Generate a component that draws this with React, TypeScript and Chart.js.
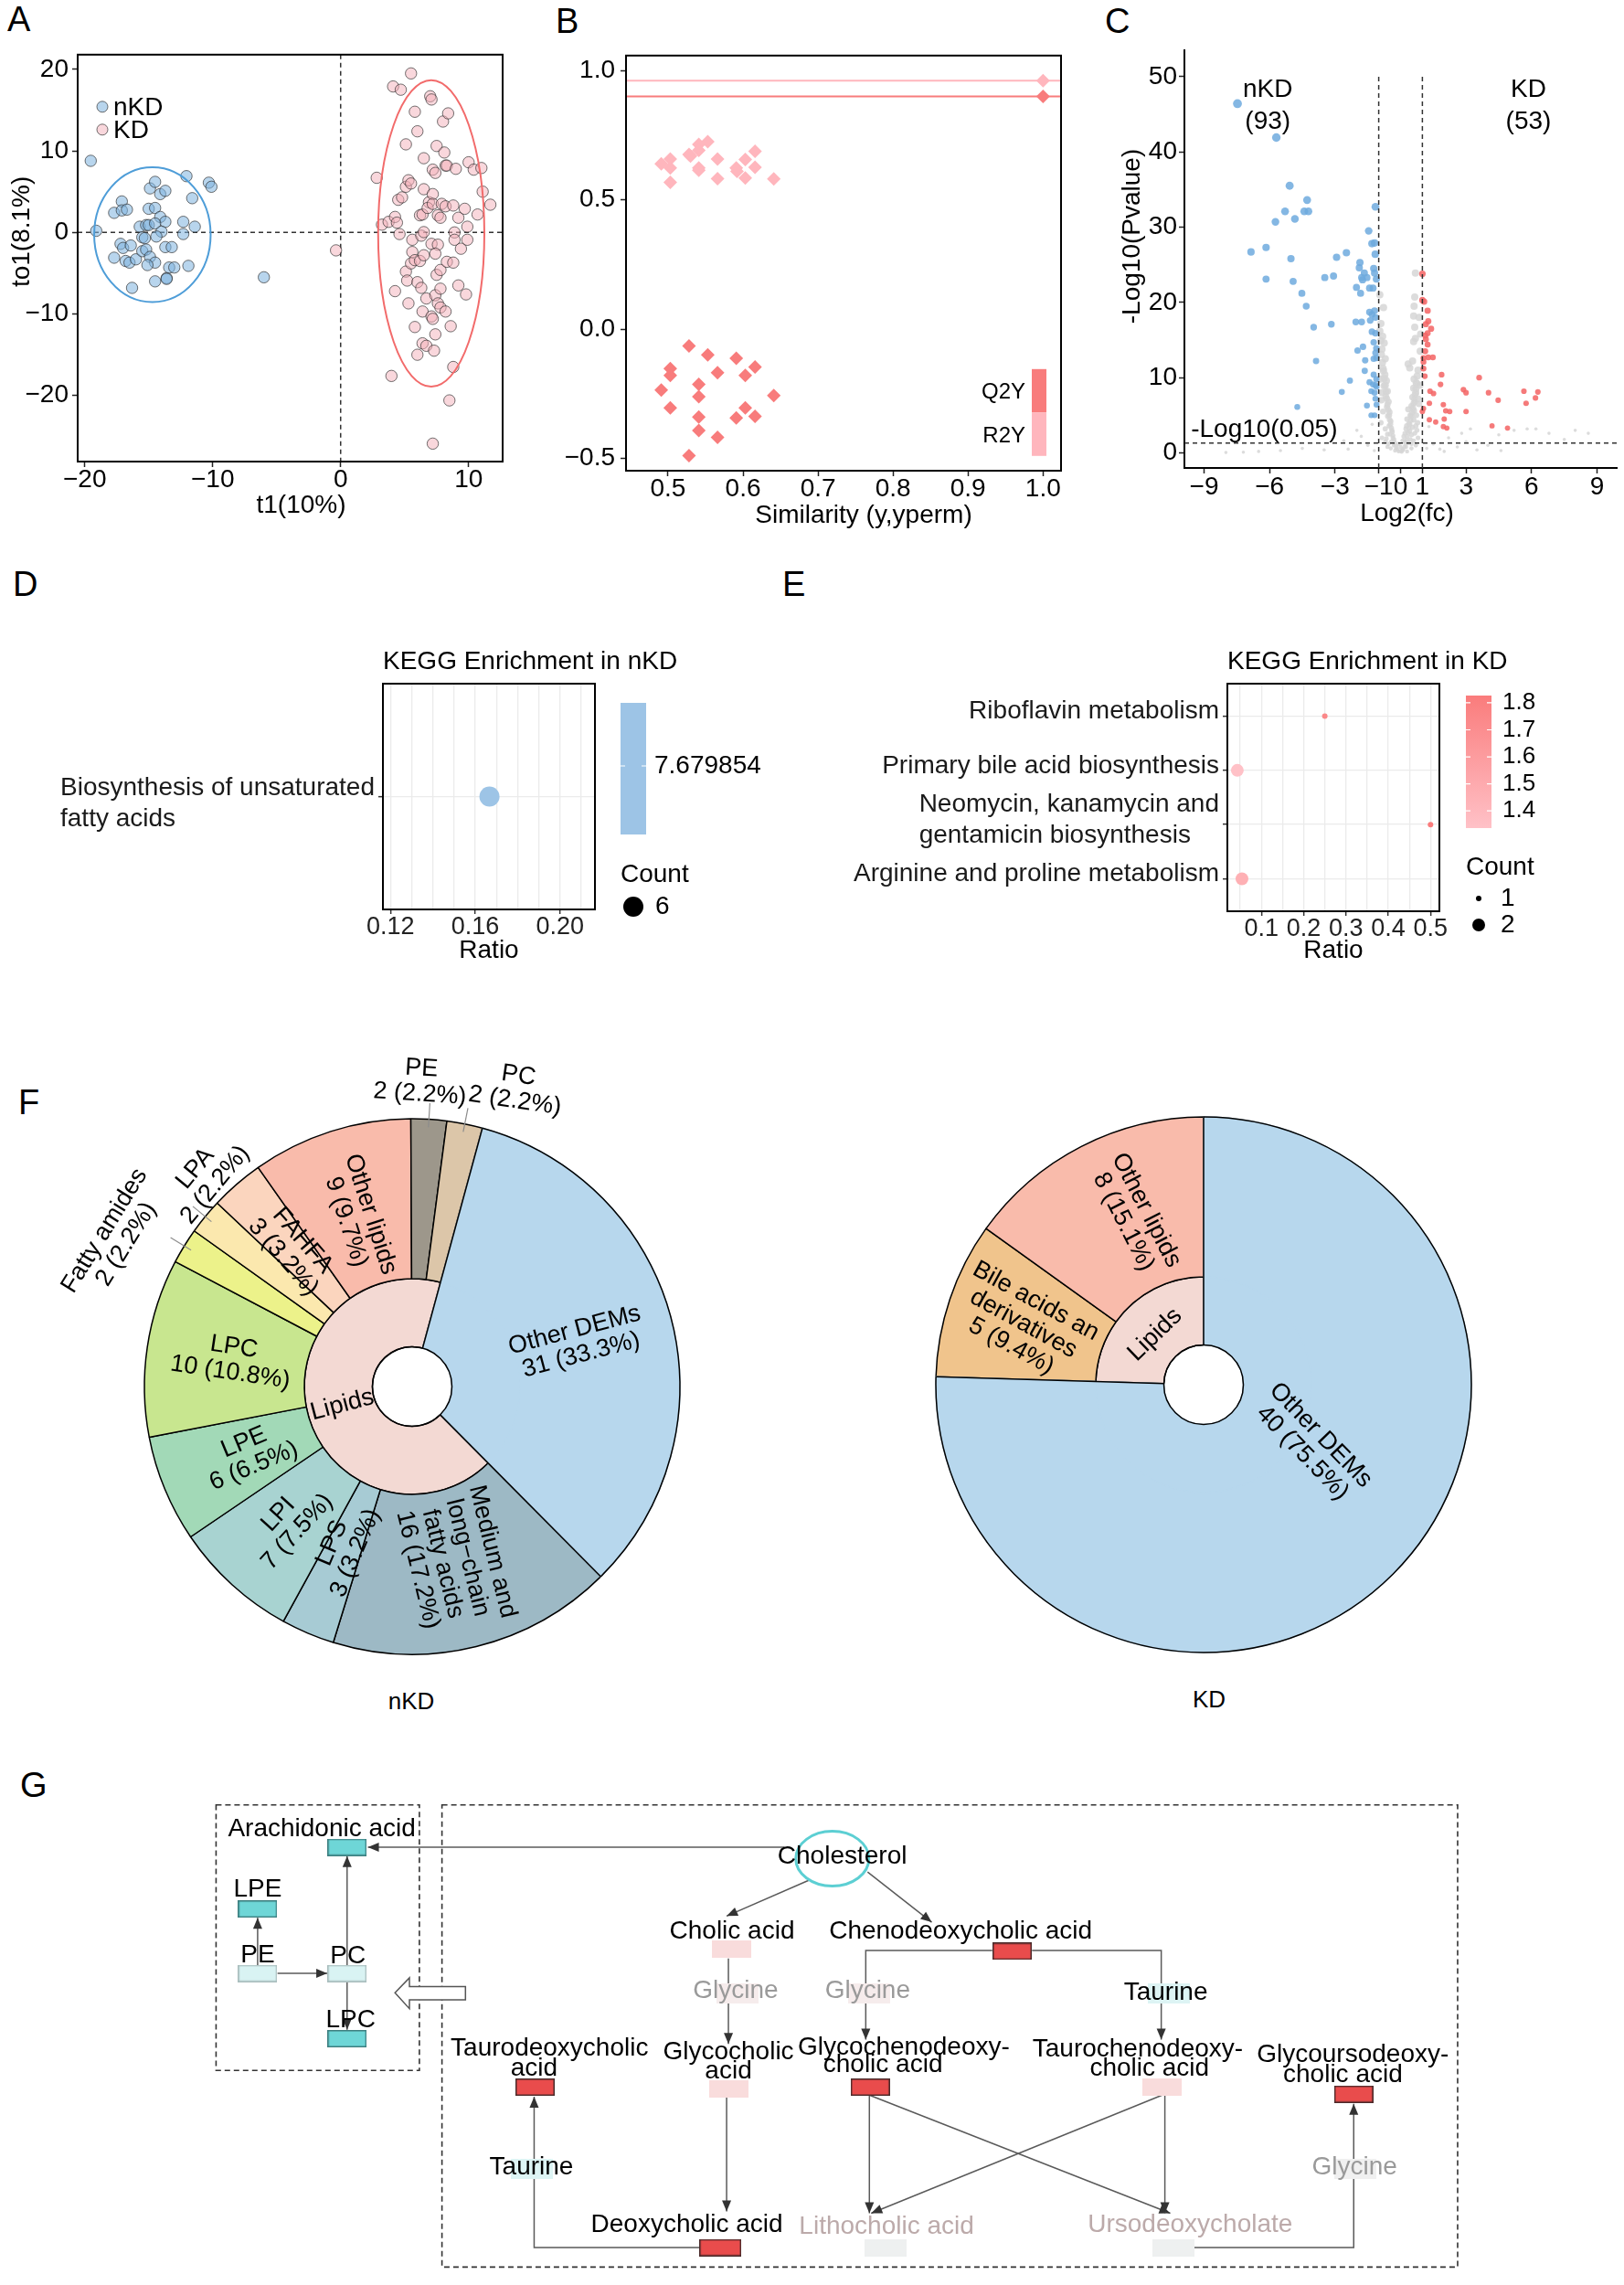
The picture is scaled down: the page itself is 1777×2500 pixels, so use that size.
import React, { useEffect, useRef } from 'react';
import { Chart, registerables } from 'chart.js';

Chart.register(...registerables);

const FONT = "'Liberation Sans', Arial, Helvetica, sans-serif";
Chart.defaults.font.family = FONT;
Chart.defaults.color = '#000';

// ================= Panel A : OPLS-DA scores =================
const A_GROUPS = ['nKD', 'KD'];
const A_NKD = [
  [-19.53, 8.78], [-19.1, 0.2], [-17.7, 2.4], [-17.1, 3.8], [-17.1, 2.7], [-16.7, 2.8], [-17.7, -3.1], [-17.2, -1.4],
  [-17.0, -1.9], [-16.4, -1.6], [-16.8, -3.5], [-16.5, -3.7], [-16.0, -3.3], [-16.3, -6.8], [-15.7, 0.7], [-15.2, 0.9],
  [-15.0, 0.9], [-15.5, -0.6], [-15.3, -0.7], [-15.5, -2.3], [-15.2, -2.1], [-14.9, -3.0], [-14.5, -3.7], [-15.1, -4.0],
  [-14.9, 5.4], [-14.5, 6.2], [-14.1, 4.7], [-13.7, 5.1], [-15.0, 2.9], [-14.5, 3.0], [-14.1, 1.9], [-13.7, 1.3],
  [-14.5, 1.1], [-14.0, 0.1], [-14.4, -0.5], [-13.7, -1.8], [-13.2, -1.8], [-14.5, -6.0], [-13.6, -5.6], [-13.4, -4.3],
  [-13.0, -4.3], [-12.3, 1.3], [-12.3, -0.2], [-12.05, 6.9], [-11.6, 4.2], [-11.4, 0.7], [-11.9, -4.1], [-10.3, 6.1],
  [-10.1, 5.6], [-6.0, -5.5], [-13.6, -5.7],
];
const A_KD = [
  [-0.36, -2.2], [2.82, 6.7], [3.23, 0.95], [3.75, 1.3], [4.25, 1.9], [4.4, 1.2], [4.6, -0.2], [4.1, 17.9], [4.7, 17.5],
  [3.97, -17.6], [4.25, -7.2], [4.5, 4.0], [4.8, 4.3], [5.1, 5.6], [5.3, 6.4], [5.5, 6.0], [5.1, 10.8], [5.5, 19.5],
  [5.8, 14.8], [6.0, 12.4], [5.1, -4.8], [5.2, -5.9], [5.3, -8.7], [5.6, -0.9], [5.6, -2.4], [5.5, -3.8], [5.8, -3.4],
  [6.0, -6.1], [5.8, -11.6], [6.0, -15.0], [6.2, 2.1], [6.4, 2.2], [6.3, -0.4], [6.5, 0.04], [6.5, 5.3], [6.5, 9.1],
  [6.4, -9.7], [6.2, -3.5], [6.3, -6.8], [6.5, -2.8], [6.7, -8.1], [6.4, -13.6], [6.7, -13.9], [7.0, 16.7], [7.1, 16.3],
  [7.2, 7.7], [7.4, 7.3], [6.9, 3.7], [7.2, 4.7], [6.8, 3.0], [7.2, 3.5], [7.6, 2.1], [7.8, 1.8], [7.1, -1.4],
  [7.6, -1.5], [7.4, -2.6], [7.5, -5.2], [7.8, -4.6], [7.4, -7.7], [7.6, -8.7], [7.8, -9.2], [7.1, -10.3], [7.2, -10.6],
  [7.4, -12.5], [7.3, -14.5], [7.2, -25.9], [7.5, 10.6], [8.1, 9.8], [8.0, 13.6], [8.4, 14.6], [8.2, 8.2], [8.3, 8.2],
  [7.9, 3.5], [8.2, 3.2], [8.3, -3.6], [7.8, -6.9], [8.2, -9.7], [8.6, -11.5], [8.8, -16.5], [8.5, -20.6], [8.8, 3.3],
  [9.0, 7.8], [8.9, 0.0], [8.9, -0.9], [8.8, -3.7], [9.2, 1.8], [9.2, -6.5], [9.4, -2.0], [9.7, 2.9], [9.9, 0.7],
  [9.9, -0.9], [9.8, -7.6], [10.0, 8.6], [10.4, 7.7], [10.7, 2.2], [11.0, 7.9], [11.1, 5.0], [11.7, 3.4],
];
const A_X_TICKS = [-20, -10, 0, 10];
const A_Y_TICKS = [-20, -10, 0, 10, 20];
const A_ELLIPSE_NKD = [-14.71, -0.27, 4.55, 8.27]; // cx, cy, rx, ry
const A_ELLIPSE_KD = [7.08, -0.12, 4.15, 18.8];

// ================= Panel B : permutation test =================
const B_SERIES = ['Q2Y', 'R2Y'];
const B_R2Y = [
  [0.491, 0.639], [0.503, 0.658], [0.503, 0.623], [0.503, 0.568], [0.528, 0.675], [0.53, 0.669], [0.541, 0.714],
  [0.541, 0.691], [0.541, 0.623], [0.541, 0.614], [0.553, 0.725], [0.566, 0.658], [0.566, 0.582], [0.591, 0.623],
  [0.592, 0.61], [0.603, 0.656], [0.603, 0.584], [0.616, 0.688], [0.616, 0.626], [0.641, 0.581], [1.0, 0.961],
];
const B_Q2Y = [
  [0.491, -0.236], [0.503, -0.153], [0.503, -0.179], [0.503, -0.305], [0.528, -0.065], [0.528, -0.49], [0.541, -0.214],
  [0.541, -0.262], [0.541, -0.34], [0.541, -0.392], [0.553, -0.1], [0.566, -0.169], [0.566, -0.419], [0.591, -0.113],
  [0.591, -0.344], [0.603, -0.179], [0.603, -0.305], [0.616, -0.147], [0.616, -0.338], [0.641, -0.257], [1.0, 0.9],
];
const B_X_TICKS = [0.5, 0.6, 0.7, 0.8, 0.9, 1.0];
const B_Y_TICKS = [-0.5, 0, 0.5, 1.0];

// ================= Panel C : volcano =================
const C_GROUPS = ['nKD', 'KD'];
const C_GROUP_COUNTS = [93, 53];
const C_DOWN = [
  [-7.47, 46.4], [-5.69, 41.9], [-5.08, 35.5], [-5.29, 32.1], [-4.84, 31.1], [-5.73, 30.7], [-4.28, 33.6], [-4.41, 32.1],
  [-4.22, 32.1], [-6.85, 26.7], [-6.16, 27.3], [-5.02, 25.8], [-6.16, 23.1], [-4.92, 22.8], [-4.52, 21.2], [-4.32, 19.5],
  [-3.98, 16.7], [-3.87, 12.2], [-4.73, 6.1], [-3.17, 17.1], [-3.47, 23.3], [-3.07, 23.5], [-2.93, 26.0], [-2.48, 26.6],
  [-2.69, 8.1], [-2.32, 9.6], [-2.05, 17.4], [-1.97, 13.6], [-1.78, 17.4], [-1.72, 14.1], [-1.62, 12.3], [-1.64, 10.9],
  [-1.54, 6.3], [-2.02, 22.0], [-1.86, 25.3], [-1.89, 24.6], [-1.78, 23.3], [-1.83, 21.2], [-1.74, 23.0], [-1.66, 23.9],
  [-1.54, 23.3], [-1.42, 21.9], [-1.26, 21.9], [-1.46, 29.5], [-1.31, 27.8], [-1.19, 27.9], [-1.15, 32.7], [-1.16, 26.4],
  [-1.23, 24.5], [-1.19, 23.9], [-1.11, 23.1], [-1.42, 18.7], [-1.31, 18.4], [-1.19, 18.9], [-1.39, 17.6], [-1.15, 18.0],
  [-1.31, 16.1], [-1.15, 15.9], [-1.23, 14.7], [-1.11, 13.9], [-1.15, 13.3], [-1.23, 12.5], [-1.10, 12.6], [-1.23, 10.4],
  [-1.11, 9.8], [-1.42, 9.4], [-1.26, 9.1], [-1.15, 9.0], [-1.34, 8.2], [-1.19, 8.0], [-1.15, 7.2], [-1.10, 6.4],
  [-1.34, 5.0], [-1.19, 5.0], [-1.10, 8.8],
];
const C_UP = [
  [1.0, 23.8], [1.0, 20.3], [1.08, 20.1], [1.24, 18.9], [1.27, 17.5], [1.16, 17.1], [1.4, 16.5], [1.24, 15.9], [1.13, 15.6],
  [1.16, 15.1], [1.24, 14.4], [1.13, 13.5], [1.05, 12.6], [1.27, 12.7], [1.48, 12.7], [1.05, 12.1], [1.05, 11.2], [1.11, 10.2],
  [1.88, 10.4], [1.83, 9.1], [1.35, 8.2], [1.51, 7.9], [1.32, 6.6], [1.96, 6.4], [1.05, 5.9], [2.07, 5.6], [2.25, 5.5],
  [2.0, 4.5], [1.32, 4.4], [1.61, 4.1], [1.96, 3.5], [2.12, 3.3], [1.0, 5.5], [2.88, 8.4], [3.0, 8.0], [3.0, 5.5],
  [3.6, 10.0], [4.03, 8.0], [4.47, 7.0], [4.19, 3.6], [4.9, 3.3], [5.65, 8.2], [5.75, 6.6], [6.18, 7.3], [6.29, 8.1],
];
const C_NS = [
  [0.68, 23.9], [0.65, 20.7], [0.62, 19.5], [0.6, 18.2], [0.65, 16.7], [0.68, 15.2], [0.6, 14.8], [0.55, 12.2], [0.35, 11.8],
  [0.42, 11.3], [-0.78, 19.3], [-0.95, 21.0], [-0.82, 15.5], [-0.75, 14.6], [-0.85, 13.8], [-0.7, 12.5], [-0.8, 11.2],
  [-0.72, 10.4], [-0.65, 9.6], [-0.75, 8.9], [-0.6, 8.2], [-0.68, 7.5], [-0.55, 6.8], [-0.62, 6.1], [-0.5, 5.4], [-0.58, 4.9],
  [-0.45, 4.2], [-0.52, 3.6], [-0.4, 3.0], [-0.48, 2.5], [-0.35, 2.0], [-0.42, 1.5], [-0.3, 1.0], [-0.2, 0.6], [0.1, 0.5],
  [0.25, 0.8], [0.35, 1.3], [0.45, 1.8], [0.5, 2.4], [0.42, 2.9], [0.55, 3.4], [0.38, 3.9], [0.6, 4.4], [0.45, 5.0],
  [0.62, 5.6], [0.5, 6.2], [0.65, 6.8], [0.55, 7.4], [0.7, 8.0], [0.6, 8.6], [0.72, 9.3], [0.62, 9.8], [0.3, 4.5], [0.25, 3.2],
  [0.15, 2.2], [0.2, 1.5], [-0.1, 1.2], [0.05, 0.3], [-0.25, 0.3], [0.3, 0.2], [0.5, 0.6], [0.7, 1.0], [0.8, 2.0], [0.75, 3.0],
  [0.78, 4.0], [0.85, 6.5], [0.88, 9.0], [0.8, 11.0], [0.9, 13.5], [0.92, 15.8], [0.85, 18.0], [-0.9, 17.2], [-0.92, 9.8],
  [-0.88, 7.0], [-0.9, 4.0], [-0.85, 2.0], [-0.7, 1.5], [-0.6, 0.8], [-2.0, 3.0], [-1.8, 2.2], [-1.5, 1.0], [-2.4, 0.5],
  [-3.5, 0.4], [-4.5, 0.6], [-5.5, 0.3], [-6.5, 0.2], [-7.2, 0.1], [-8.0, 0.05], [1.5, 1.2], [1.8, 0.5], [2.2, 2.0], [2.6, 0.8],
  [3.0, 1.5], [3.2, 3.2], [3.5, 0.4], [4.0, 1.0], [4.6, 0.3], [5.2, 3.0], [5.8, 3.2], [6.2, 3.2], [6.8, 2.6], [7.5, 1.8],
  [8.0, 3.0], [8.6, 2.6], [2.0, 0.2], [1.3, 3.5], [-1.3, 3.8], [-1.2, 0.3], [1.2, 0.6], [2.8, 2.6], [4.5, 2.4], [-2.6, 1.6],
  [-0.95, 16.2], [-0.9, 14.9], [-0.88, 13.1], [-0.83, 12.0], [-0.78, 10.9], [-0.74, 9.9], [-0.7, 9.0], [-0.66, 8.1],
  [-0.63, 7.2], [-0.6, 6.4], [-0.56, 5.7], [-0.52, 5.0], [-0.5, 4.4], [-0.46, 3.8], [-0.42, 3.3], [-0.38, 2.8], [-0.35, 2.3],
  [-0.3, 1.8], [-0.27, 1.4], [-0.22, 1.0], [-0.18, 0.7], [-0.12, 0.4], [-0.08, 0.2], [-0.6, 2.5], [-0.7, 3.2], [-0.8, 5.5],
  [-0.85, 8.0], [-0.55, 1.2], [-0.45, 0.6], [-0.65, 1.9], [0.05, 0.15], [0.12, 0.4], [0.18, 0.8], [0.22, 1.2], [0.27, 1.7],
  [0.3, 2.2], [0.34, 2.7], [0.38, 3.3], [0.42, 3.8], [0.46, 4.3], [0.5, 4.9], [0.53, 5.4], [0.57, 6.0], [0.6, 6.6],
  [0.64, 7.2], [0.67, 7.8], [0.7, 8.5], [0.74, 9.2], [0.5, 1.2], [0.6, 1.6], [0.65, 2.6], [0.7, 3.6], [0.72, 5.0], [0.8, 7.2],
  [0.76, 10.2], [0.2, 2.6], [0.28, 3.6], [0.35, 5.8], [0.1, 1.6], [0.0, 0.8],
];
const C_X_TICKS = [-9, -6, -3, -1, 0, 1, 3, 6, 9];
const C_Y_TICKS = [0, 10, 20, 30, 40, 50];
const C_FC_CUTOFF = 1;
const C_P_CUTOFF = 1.30103;

// ================= Panel D : KEGG nKD =================
const D_PATHWAYS = ['Biosynthesis of unsaturated\nfatty acids'];
const D_RATIO = [0.1667];
const D_COUNT = [6];
const D_NEGLOGP = [7.679854];
const D_X_GRID = [0.12, 0.13, 0.14, 0.15, 0.16, 0.17, 0.18, 0.19, 0.2, 0.21];
const D_X_LABELS = [0.12, 0.16, 0.2];

// ================= Panel E : KEGG KD =================
const E_PATHWAYS = [
  'Arginine and proline metabolism',
  'Neomycin, kanamycin and\ngentamicin biosynthesis',
  'Primary bile acid biosynthesis',
  'Riboflavin metabolism',
];
const E_RATIO = [0.054, 0.5, 0.043, 0.25];
const E_COUNT = [2, 1, 2, 1];
const E_NEGLOGP = [1.46, 1.827, 1.336, 1.74];
const E_X_GRID = [0.05, 0.1, 0.15, 0.2, 0.25, 0.3, 0.35, 0.4, 0.45, 0.5];
const E_X_LABELS = [0.1, 0.2, 0.3, 0.4, 0.5];
const E_CB_TICKS = [1.4, 1.5, 1.6, 1.7, 1.8];
const E_COUNT_LEVELS = [1, 2];

// ================= Panel F : class composition =================
const NKD_CLASSES = ['Medium and\nlong\u2212chain\nfatty acids', 'LPS', 'LPI', 'LPE', 'LPC', 'Fatty amides', 'LPA', 'FAHFA', 'Other lipids', 'PE', 'PC', 'Other DEMs'];
const NKD_COUNTS = [16, 3, 7, 6, 10, 2, 2, 3, 9, 2, 2, 31];
const NKD_INNER = ['Lipids', 'Other DEMs'];
const NKD_INNER_COUNTS = [62, 31];
const KD_CLASSES = ['Bile acids an\nderivatives', 'Other lipids', 'Other DEMs'];
const KD_COUNTS = [5, 8, 40];
const KD_INNER = ['Lipids', 'Other DEMs'];
const KD_INNER_COUNTS = [13, 40];

// ================= Panel G : pathway =================
const G_NODE_NAMES = ['Arachidonic acid', 'LPE', 'PE', 'PC', 'LPC', 'Cholic acid', 'Chenodeoxycholic acid', 'Taurodeoxycholic acid',
  'Glycocholic acid', 'Glycochenodeoxycholic acid', 'Taurochenodeoxycholic acid', 'Glycoursodeoxycholic acid', 'Deoxycholic acid',
  'Lithocholic acid', 'Ursodeoxycholate', 'Glycine', 'Glycine', 'Taurine', 'Taurine', 'Glycine'];
const G_NODE_X = [374, 275, 275, 374, 374, 800, 1110, 582, 796, 953, 1276, 1488, 787, 970, 1288, 806, 952, 1283, 579, 1490];
const G_NODE_Y = [2014, 2084, 2157, 2157, 2231, 2130, 2132, 2286, 2288, 2286, 2286, 2294, 2468, 2468, 2468, 2180, 2180, 2180, 2379, 2379];
const G_NODE_KIND = ['down', 'down', 'lipidNs', 'lipidNs', 'down', 'upNs', 'up', 'up', 'upNs', 'up', 'upNs', 'up', 'up', 'none', 'none',
  'glyBg', 'glyBg', 'tauBg', 'tauBg', 'grayBg'];
const G_LABEL_TEXT = ['Arachidonic acid', 'LPE', 'PE', 'PC', 'LPC', 'Cholesterol', 'Cholic acid', 'Chenodeoxycholic acid', 'Glycine',
  'Glycine', 'Taurine', 'Taurodeoxycholic', 'acid', 'Glycocholic', 'acid', 'Glycochenodeoxy-', 'cholic acid', 'Taurochenodeoxy-',
  'cholic acid', 'Glycoursodeoxy-', 'cholic acid', 'Taurine', 'Glycine', 'Deoxycholic acid', 'Lithocholic acid', 'Ursodeoxycholate'];
const G_LABEL_X = [346, 275, 275, 375, 378, 922, 800, 1053, 804, 950, 1280, 598, 581, 796, 796, 990, 967, 1249, 1262, 1487, 1476, 578, 1489, 750, 971, 1307];
const G_LABEL_Y = [1993, 2062, 2137, 2138, 2210, 2025, 2110, 2110, 2177, 2177, 2179, 2242, 2265, 2246, 2268, 2241, 2261, 2243, 2265, 2249, 2272, 2377, 2377, 2442, 2444, 2442];
const G_LABEL_TONE = ['k', 'k', 'k', 'k', 'k', 'k', 'k', 'k', 'g', 'g', 'k', 'k', 'k', 'k', 'k', 'k', 'k', 'k', 'k', 'k', 'k', 'k', 'g', 'k', 'r', 'r'];
const G_EDGES = [
  [[858, 2014], [397, 2014]],
  [[374, 2148], [374, 2024]],
  [[275, 2148], [275, 2094]],
  [[297, 2157], [352, 2157]],
  [[374, 2166], [374, 2221]],
  [[886, 2051], [794, 2092]],
  [[950, 2042], [1021, 2099]],
  [[1088, 2131], [948, 2131], [948, 2232]],
  [[1132, 2131], [1275, 2131], [1275, 2232]],
  [[796, 2140], [796, 2237]],
  [[794, 2298], [794, 2427]],
  [[767, 2468], [581, 2468], [581, 2297]],
  [[952, 2295], [952, 2429]],
  [[952, 2295], [1285, 2429]],
  [[1276, 2295], [954, 2429]],
  [[1279, 2295], [1279, 2429]],
  [[1311, 2468], [1488, 2468], [1488, 2305]],
];
const G_BOXES = [[229, 1966, 454, 2267], [479, 1966, 1603, 2490]];
const G_BIG_ARROW = [[427, 2179], [443, 2162], [443, 2172], [505, 2172], [505, 2187], [443, 2187], [443, 2197]];
const G_CHOLESTEROL = [911, 2027, 40, 30];

// ================= Helpers =================
const fmtNum = (v: number, d: number) => {
  const s = Math.abs(v).toFixed(d);
  return v < -1e-9 ? '\u2212' + s : s;
};
const near = (arr: number[], v: number) => arr.some((a) => Math.abs(a - v) < 1e-9);

function geom(area: any, yw: number, xh: number, pad: any) {
  return {
    left: area.l - yw - pad.left,
    top: area.t - pad.top,
    width: area.r - area.l + yw + pad.left + pad.right,
    height: area.b - area.t + xh + pad.top + pad.bottom,
    padding: pad,
  };
}

const tickGrid = { display: true, drawOnChartArea: false, drawTicks: true, tickLength: 6, tickWidth: 1.5, tickColor: '#222' };

function linAxis(o: any) {
  const horiz = o.pos === 'bottom';
  return {
    type: 'linear',
    position: o.pos,
    min: o.min,
    max: o.max,
    afterBuildTicks: (s: any) => { s.ticks = o.ticks.map((v: number) => ({ value: v })); },
    afterFit: (s: any) => { if (horiz) s.height = o.size; else s.width = o.size; },
    ticks: {
      display: true, autoSkip: false, maxRotation: 0, minRotation: 0, padding: o.pad,
      color: '#000', font: { size: 28 }, callback: o.fmt,
    },
    title: { display: false },
    grid: tickGrid,
    border: { display: true, color: '#000', width: 2 },
  };
}

// axis titles drawn at the scale edges, centred on the panel with a small offset
function titlesPlugin(t: any) {
  return {
    id: 'axisTitles',
    afterDraw(chart: any) {
      const { ctx, chartArea: a, scales } = chart;
      ctx.save();
      ctx.fillStyle = '#000';
      ctx.font = `28px ${FONT}`;
      ctx.textAlign = 'center';
      ctx.textBaseline = 'middle';
      if (t.x) ctx.fillText(t.x, (a.left + a.right) / 2 + (t.dx || 0), scales.x.bottom - 20.8);
      if (t.y) {
        ctx.translate(scales.y.left + 20.8, (a.top + a.bottom) / 2 + (t.dy || 0));
        ctx.rotate(-Math.PI / 2);
        ctx.fillText(t.y, 0, 0);
      }
      ctx.restore();
    },
  };
}

const framePlugin = {
  id: 'frame',
  afterDatasetsDraw(chart: any) {
    const { ctx, chartArea: a } = chart;
    ctx.save();
    ctx.strokeStyle = '#000';
    ctx.lineWidth = 2;
    ctx.strokeRect(a.left, a.top, a.right - a.left, a.bottom - a.top);
    ctx.restore();
  },
};

function ChartCanvas({ g, make }: any) {
  const ref = useRef<HTMLCanvasElement>(null);
  useEffect(() => {
    const cfg = make();
    cfg.options = cfg.options || {};
    Object.assign(cfg.options, { responsive: false, maintainAspectRatio: false, animation: false, devicePixelRatio: 1 });
    cfg.options.layout = { padding: g.padding };
    cfg.options.plugins = Object.assign({ legend: { display: false }, tooltip: { enabled: false }, title: { display: false } }, cfg.options.plugins || {});
    const chart = new Chart(ref.current as any, cfg);
    return () => chart.destroy();
  }, []);
  return (
    <canvas ref={ref} width={g.width} height={g.height}
      style={{ position: 'absolute', left: g.left, top: g.top, width: g.width, height: g.height }} />
  );
}

// ================= Panel A config =================
const A_COL_NKD = 'rgba(125,178,222,0.55)';
const A_COL_KD = 'rgba(244,176,186,0.5)';
const A_EDGE = 'rgba(40,40,40,0.65)';
const GA = geom({ l: 85, t: 59, r: 550, b: 505 }, 82, 69, { top: 20, right: 16, bottom: 0, left: 0 });

function makeA() {
  return {
    type: 'scatter',
    data: {
      datasets: [
        { label: A_GROUPS[0], data: A_NKD.map(([x, y]) => ({ x, y })), pointRadius: 6.2, backgroundColor: A_COL_NKD, borderColor: A_EDGE, borderWidth: 1 },
        { label: A_GROUPS[1], data: A_KD.map(([x, y]) => ({ x, y })), pointRadius: 6.2, backgroundColor: A_COL_KD, borderColor: A_EDGE, borderWidth: 1 },
      ],
    },
    options: {
      scales: {
        x: linAxis({ pos: 'bottom', min: -20.55, max: 12.66, ticks: A_X_TICKS, fmt: (v: number) => fmtNum(v, 0), size: 69, pad: -3 }),
        y: linAxis({ pos: 'left', min: -28.1, max: 21.8, ticks: A_Y_TICKS, fmt: (v: number) => fmtNum(v, 0), size: 82, pad: 4 }),
      },
    },
    plugins: [
      {
        id: 'aDecor',
        beforeDatasetsDraw(chart: any) {
          const { ctx, chartArea: a, scales } = chart;
          ctx.save();
          ctx.strokeStyle = '#333';
          ctx.lineWidth = 1.5;
          ctx.setLineDash([5, 4]);
          const x0 = scales.x.getPixelForValue(0);
          const y0 = scales.y.getPixelForValue(0);
          ctx.beginPath(); ctx.moveTo(x0, a.top); ctx.lineTo(x0, a.bottom); ctx.stroke();
          ctx.beginPath(); ctx.moveTo(a.left, y0); ctx.lineTo(a.right, y0); ctx.stroke();
          ctx.restore();
        },
        afterDatasetsDraw(chart: any) {
          const { ctx, chartArea: a, scales } = chart;
          const xs = scales.x, ys = scales.y;
          ctx.save();
          [[A_ELLIPSE_NKD, '#4E9DD8'], [A_ELLIPSE_KD, '#F26B6B']].forEach(([e, col]: any) => {
            const cx = xs.getPixelForValue(e[0]);
            const cy = ys.getPixelForValue(e[1]);
            const rx = Math.abs(xs.getPixelForValue(e[0] + e[2]) - cx);
            const ry = Math.abs(ys.getPixelForValue(e[1] + e[3]) - cy);
            ctx.strokeStyle = col;
            ctx.lineWidth = 2;
            ctx.beginPath(); ctx.ellipse(cx, cy, rx, ry, 0, 0, Math.PI * 2); ctx.stroke();
          });
          const cols = [A_COL_NKD, A_COL_KD];
          ctx.font = `28px ${FONT}`;
          ctx.textBaseline = 'middle';
          ctx.textAlign = 'left';
          A_GROUPS.forEach((g, i) => {
            const lx = a.left + 27, ly = a.top + 57 + i * 25;
            ctx.beginPath(); ctx.arc(lx, ly, 6, 0, Math.PI * 2);
            ctx.fillStyle = cols[i]; ctx.fill();
            ctx.strokeStyle = A_EDGE; ctx.lineWidth = 1; ctx.stroke();
            ctx.fillStyle = '#000';
            ctx.fillText(g, lx + 12, ly + 1);
          });
          ctx.restore();
        },
      },
      framePlugin,
      titlesPlugin({ x: 't1(10%)', dx: 12, y: 'to1(8.1%)', dy: -29 }),
    ],
  };
}

// ================= Panel B config =================
const B_COL_R2Y = '#FFB6BD';
const B_COL_Q2Y = '#F87C7C';
const GB = geom({ l: 685, t: 58, r: 1161, b: 515 }, 90, 70, { top: 20, right: 16, bottom: 0, left: 0 });

function makeB() {
  return {
    type: 'scatter',
    data: {
      datasets: [
        { label: 'R2Y', data: B_R2Y.map(([x, y]) => ({ x, y })), pointStyle: 'rectRot', pointRadius: 7.5, backgroundColor: B_COL_R2Y, borderWidth: 0 },
        { label: 'Q2Y', data: B_Q2Y.map(([x, y]) => ({ x, y })), pointStyle: 'rectRot', pointRadius: 7.5, backgroundColor: B_COL_Q2Y, borderWidth: 0 },
      ],
    },
    options: {
      scales: {
        x: linAxis({ pos: 'bottom', min: 0.444, max: 1.024, ticks: B_X_TICKS, fmt: (v: number) => fmtNum(v, 1), size: 70, pad: -3 }),
        y: linAxis({ pos: 'left', min: -0.548, max: 1.058, ticks: B_Y_TICKS, fmt: (v: number) => fmtNum(v, 1), size: 90, pad: 6 }),
      },
    },
    plugins: [
      {
        id: 'bDecor',
        beforeDatasetsDraw(chart: any) {
          const { ctx, chartArea: a, scales } = chart;
          ctx.save();
          ctx.lineWidth = 2;
          const rOrig = B_R2Y[B_R2Y.length - 1][1];
          const qOrig = B_Q2Y[B_Q2Y.length - 1][1];
          [[rOrig, B_COL_R2Y], [qOrig, B_COL_Q2Y]].forEach(([v, c]: any) => {
            const y = scales.y.getPixelForValue(v);
            ctx.strokeStyle = c;
            ctx.beginPath(); ctx.moveTo(a.left, y); ctx.lineTo(a.right, y); ctx.stroke();
          });
          ctx.restore();
        },
        afterDatasetsDraw(chart: any) {
          const { ctx, chartArea: a } = chart;
          ctx.save();
          const cols = [B_COL_Q2Y, B_COL_R2Y];
          ctx.font = `24px ${FONT}`;
          ctx.textAlign = 'right';
          ctx.textBaseline = 'middle';
          B_SERIES.forEach((s, i) => {
            const y0 = a.top + 343 + i * 47.5;
            ctx.fillStyle = cols[i];
            ctx.fillRect(a.right - 32, y0, 16, 47.5);
            ctx.fillStyle = '#000';
            ctx.fillText(s, a.right - 39, y0 + 26);
          });
          ctx.restore();
        },
      },
      framePlugin,
      titlesPlugin({ x: 'Similarity (y,yperm)', dx: 22 }),
    ],
  };
}

// ================= Panel C config =================
const GC = geom({ l: 1296, t: 55, r: 1769, b: 512 }, 78, 71, { top: 20, right: 8, bottom: 0, left: 0 });

function makeC() {
  return {
    type: 'scatter',
    data: {
      datasets: [
        { label: 'up', order: 1, data: C_UP.map(([x, y]) => ({ x, y })), backgroundColor: 'rgba(244,104,104,0.88)', borderWidth: 0,
          pointRadius: (c: any) => 2.8 + (c.raw ? c.raw.y : 0) * 0.035 },
        { label: 'down', order: 1, data: C_DOWN.map(([x, y]) => ({ x, y })), backgroundColor: 'rgba(110,170,222,0.85)', borderWidth: 0,
          pointRadius: (c: any) => 3.0 + (c.raw ? c.raw.y : 0) * 0.04 },
        { label: 'ns', order: 3, data: C_NS.map(([x, y]) => ({ x, y })), backgroundColor: 'rgba(214,214,214,0.85)', borderWidth: 0,
          pointRadius: (c: any) => (c.raw && Math.abs(c.raw.x) > 1.1 ? 1.8 : Math.min(2.2 + (c.raw ? c.raw.y : 0) * 0.2, 4)) },
      ],
    },
    options: {
      scales: {
        x: linAxis({ pos: 'bottom', min: -9.9, max: 9.9, ticks: C_X_TICKS, fmt: (v: number) => fmtNum(v, 0), size: 71, pad: -2 }),
        y: linAxis({ pos: 'left', min: -2.0, max: 53.5, ticks: C_Y_TICKS, fmt: (v: number) => fmtNum(v, 0), size: 78, pad: 2 }),
      },
    },
    plugins: [
      {
        id: 'cDecor',
        afterDatasetsDraw(chart: any) {
          const { ctx, chartArea: a, scales } = chart;
          const xs = scales.x, ys = scales.y;
          ctx.save();
          ctx.strokeStyle = '#333';
          ctx.lineWidth = 1.5;
          ctx.setLineDash([5, 4]);
          [-C_FC_CUTOFF, C_FC_CUTOFF].forEach((v) => {
            const x = xs.getPixelForValue(v);
            ctx.beginPath(); ctx.moveTo(x, a.bottom); ctx.lineTo(x, ys.getPixelForValue(50)); ctx.stroke();
          });
          const yp = ys.getPixelForValue(C_P_CUTOFF);
          ctx.beginPath(); ctx.moveTo(a.left, yp); ctx.lineTo(a.right, yp); ctx.stroke();
          ctx.setLineDash([]);
          ctx.fillStyle = '#000';
          ctx.font = `28px ${FONT}`;
          ctx.textAlign = 'center';
          ctx.textBaseline = 'middle';
          const gx = [-6.08, 5.86];
          C_GROUPS.forEach((g, i) => {
            ctx.fillText(g, xs.getPixelForValue(gx[i]), ys.getPixelForValue(48.2));
            ctx.fillText(`(${C_GROUP_COUNTS[i]})`, xs.getPixelForValue(gx[i]), ys.getPixelForValue(44.0));
          });
          ctx.textAlign = 'left';
          ctx.fillText('-Log10(0.05)', xs.getPixelForValue(-9.6), ys.getPixelForValue(3.1));
          ctx.restore();
        },
      },
      titlesPlugin({ x: 'Log2(fc)', dx: 7, y: '-Log10(Pvalue)', dy: -25 }),
    ],
  };
}

// ================= Panels D & E config =================
function lerpColor(c1: number[], c2: number[], t: number) {
  const c = c1.map((v, i) => Math.round(v + (c2[i] - v) * t));
  return `rgb(${c[0]},${c[1]},${c[2]})`;
}
const E_LOW = [255, 193, 199];
const E_HIGH = [250, 124, 124];
const E_MIN = Math.min(...E_NEGLOGP);
const E_MAX = Math.max(...E_NEGLOGP);
const eColor = (v: number) => lerpColor(E_LOW, E_HIGH, (v - E_MIN) / (E_MAX - E_MIN));
const E_COUNT_RADII = [3, 7];
const D_COLOR = '#9DC4E6';

const GD = geom({ l: 419, t: 748, r: 651, b: 995 }, 10, 66, { top: 60, right: 210, bottom: 0, left: 369 });
const GE = geom({ l: 1343, t: 748, r: 1575, b: 997 }, 10, 64, { top: 60, right: 130, bottom: 0, left: 463 });

function makeKegg(k: any) {
  return {
    type: 'scatter',
    data: {
      datasets: [{
        data: k.ratio.map((r: number, i: number) => ({ x: r, y: i + 1 })),
        pointRadius: k.count.map(k.radius),
        backgroundColor: k.value.map(k.color),
        borderWidth: 0,
      }],
    },
    options: {
      scales: {
        x: {
          type: 'linear', position: 'bottom', min: k.xmin, max: k.xmax,
          afterBuildTicks: (s: any) => { s.ticks = k.grid.map((v: number) => ({ value: v })); },
          afterFit: (s: any) => { s.height = k.xh; },
          ticks: { autoSkip: false, maxRotation: 0, minRotation: 0, padding: -2, color: '#222', font: { size: 27 },
            callback: (v: number) => (near(k.labels, v) ? v.toFixed(k.dec) : '') },
          grid: { color: '#EBEBEB', lineWidth: 1.3, drawTicks: true, tickLength: 5, tickWidth: 1.5,
            tickColor: (c: any) => (c.tick && near(k.labels, c.tick.value) ? '#333' : 'rgba(0,0,0,0)') },
          border: { display: true, color: '#000', width: 2 },
          title: { display: true, text: 'Ratio', color: '#000', font: { size: 28 }, padding: { top: 0, bottom: 4 } },
        },
        y: {
          type: 'linear', position: 'left', min: 0.4, max: k.names.length + 0.6,
          afterBuildTicks: (s: any) => { s.ticks = k.names.map((_: any, i: number) => ({ value: i + 1 })); },
          afterFit: (s: any) => { s.width = 10; },
          ticks: { display: false },
          grid: { color: '#EBEBEB', lineWidth: 1.3, drawTicks: true, tickLength: 5, tickWidth: 1.5, tickColor: '#333' },
          border: { display: true, color: '#000', width: 2 },
        },
      },
    },
    plugins: [
      framePlugin,
      {
        id: 'keggDecor',
        afterDraw(chart: any) {
          const { ctx, chartArea: a, scales } = chart;
          ctx.save();
          ctx.fillStyle = '#000';
          ctx.font = `28px ${FONT}`;
          ctx.textBaseline = 'middle';
          ctx.textAlign = 'left';
          ctx.fillText(k.title, a.left, a.top - 24);
          ctx.fillStyle = '#1A1A1A';
          k.names.forEach((name: string, i: number) => {
            const lines = name.split('\n');
            const py = scales.y.getPixelForValue(i + 1) + k.labelDy;
            const x0 = a.left - 9;
            if (lines.length === 1) {
              ctx.textAlign = 'right';
              ctx.fillText(lines[0], x0, py);
            } else {
              const w = Math.max(...lines.map((l) => ctx.measureText(l).width));
              ctx.textAlign = 'left';
              lines.forEach((l, j) => ctx.fillText(l, x0 - w, py + (j - (lines.length - 1) / 2) * 34));
            }
          });
          k.legend(ctx, a);
          ctx.restore();
        },
      },
    ],
  };
}

function makeD() {
  return makeKegg({
    names: D_PATHWAYS, ratio: D_RATIO, count: D_COUNT, value: D_NEGLOGP,
    xmin: 0.1164, xmax: 0.2165, grid: D_X_GRID, labels: D_X_LABELS, dec: 2, xh: 66, labelDy: 8,
    title: 'KEGG Enrichment in nKD',
    radius: () => 11,
    color: () => D_COLOR,
    legend: (ctx: any, a: any) => {
      const bx = a.right + 28, by = a.top + 21, bw = 28, bh = 144;
      ctx.fillStyle = D_COLOR;
      ctx.fillRect(bx, by, bw, bh);
      const ty = by + 69;
      ctx.strokeStyle = '#fff'; ctx.lineWidth = 1.2;
      ctx.beginPath(); ctx.moveTo(bx, ty); ctx.lineTo(bx + 5, ty); ctx.moveTo(bx + bw - 5, ty); ctx.lineTo(bx + bw, ty); ctx.stroke();
      ctx.fillStyle = '#000';
      ctx.font = `28px ${FONT}`;
      ctx.textAlign = 'left';
      ctx.fillText(String(D_NEGLOGP[0]), bx + 37, ty);
      ctx.fillText('Count', bx, a.top + 209);
      ctx.beginPath(); ctx.arc(bx + 14, a.top + 244, 11, 0, Math.PI * 2); ctx.fill();
      ctx.fillText(String(D_COUNT[0]), bx + 38, a.top + 244);
    },
  });
}

function makeE() {
  return makeKegg({
    names: E_PATHWAYS, ratio: E_RATIO, count: E_COUNT, value: E_NEGLOGP,
    xmin: 0.0195, xmax: 0.521, grid: E_X_GRID, labels: E_X_LABELS, dec: 1, xh: 64, labelDy: -5,
    title: 'KEGG Enrichment in KD',
    radius: (c: number) => E_COUNT_RADII[E_COUNT_LEVELS.indexOf(c)],
    color: eColor,
    legend: (ctx: any, a: any) => {
      const bx = a.right + 29, by = a.top + 13, bw = 28, bh = 145;
      const grad = ctx.createLinearGradient(0, by + bh, 0, by);
      grad.addColorStop(0, eColor(E_MIN));
      grad.addColorStop(1, eColor(E_MAX));
      ctx.fillStyle = grad;
      ctx.fillRect(bx, by, bw, bh);
      ctx.font = `26px ${FONT}`;
      ctx.textAlign = 'left';
      E_CB_TICKS.forEach((v) => {
        const ty = by + bh - ((v - E_MIN) / (E_MAX - E_MIN)) * bh;
        ctx.strokeStyle = '#fff'; ctx.lineWidth = 1.2;
        ctx.beginPath(); ctx.moveTo(bx, ty); ctx.lineTo(bx + 5, ty); ctx.moveTo(bx + bw - 5, ty); ctx.lineTo(bx + bw, ty); ctx.stroke();
        ctx.fillStyle = '#000';
        ctx.fillText(v.toFixed(1), bx + 40, ty);
      });
      ctx.font = `28px ${FONT}`;
      ctx.fillText('Count', bx, a.top + 201);
      E_COUNT_LEVELS.forEach((c, i) => {
        const cy = a.top + 235 + i * 29;
        ctx.beginPath(); ctx.arc(bx + 14, cy, E_COUNT_RADII[i], 0, Math.PI * 2); ctx.fill();
        ctx.fillText(String(c), bx + 38, cy);
      });
    },
  });
}

// ================= Panel F config =================
const PIE_COLORS: any = {
  'Medium and\nlong\u2212chain\nfatty acids': '#9DB9C5', LPS: '#A7CBD4', LPI: '#A8D3D1', LPE: '#A2D9B7', LPC: '#C8E68F',
  'Fatty amides': '#ECF28A', LPA: '#FBE8AE', FAHFA: '#FBD5BE', 'Other lipids': '#F9BBAB', PE: '#9D978B', PC: '#DCC6A9',
  'Other DEMs': '#B7D7ED', Lipids: '#F3D9D3', 'Bile acids an\nderivatives': '#F0C48C',
};
const OUTER_R = 293;
const NKD_LABEL_R = [0.67, 0.655, 0.69, 0.66, 0.68, 1.24, 1.1, 0.68, 0.66, 1.14, 1.18, 0.64];
const NKD_LABEL_MODE = ['radial', 'radial', 'radial', 'radial', 'radial', 'tangent', 'tangent', 'radial', 'radial', 'tangent', 'tangent', 'radial'];
const NKD_LABEL_SHIFT = [0, 0, 0, 0, 0, -5, 6, 0, 0, -2, 8, 0];
const NKD_LABEL_ROT = [0, 0, 0, 0, 0, 0, 0, 0, 0, 0, -3, 0];
const NKD_LEADER = [0, 0, 0, 0, 0, 1, 1, 0, 0, 1, 1, 0];
const KD_LABEL_R = [0.71, 0.68, 0.46];
const KD_LABEL_MODE = ['radial', 'radial', 'radial'];
const KD_LABEL_SHIFT = [0, 5, -17];
const KD_LABEL_ROT = [10, 0, 0];
const KD_LEADER = [0, 0, 0];

function rotFor(mode: string, a: number) {
  if (mode === 'flat') return 0;
  let r = mode === 'tangent' ? a + Math.PI / 2 : a;
  r = ((r % (2 * Math.PI)) + 2 * Math.PI) % (2 * Math.PI);
  if (r > Math.PI / 2 && r < (3 * Math.PI) / 2) r -= Math.PI;
  return r;
}

function drawRotText(ctx: any, lines: string[], x: number, y: number, rot: number, lh: number) {
  ctx.save();
  ctx.translate(x, y);
  ctx.rotate(rot);
  lines.forEach((l, i) => ctx.fillText(l, 0, (i - (lines.length - 1) / 2) * lh));
  ctx.restore();
}

function makePie(p: any) {
  const blue = PIE_COLORS['Other DEMs'];
  return {
    type: 'doughnut',
    data: {
      labels: p.outer,
      datasets: [
        { data: p.outerCounts, backgroundColor: p.outer.map((n: string) => PIE_COLORS[n]),
          borderColor: p.outer.map((n: string) => (n === 'Other DEMs' ? blue : '#000')), borderWidth: 1.5, weight: 175 },
        { data: p.innerCounts, backgroundColor: p.inner.map((n: string) => PIE_COLORS[n]),
          borderColor: p.inner.map((n: string) => (n === 'Other DEMs' ? blue : '#000')), borderWidth: 1.5, weight: 74.5 },
      ],
    },
    options: { rotation: p.rotation, cutout: '14.85%', radius: OUTER_R },
    plugins: [{
      id: 'pieDecor',
      afterDatasetsDraw(chart: any) {
        const ctx = chart.ctx;
        const outer = chart.getDatasetMeta(0).data;
        const inner = chart.getDatasetMeta(1).data;
        const holeR = inner[0].innerRadius;
        const R = outer[0].outerRadius;
        const cx = outer[0].x, cy = outer[0].y;
        ctx.save();
        ctx.strokeStyle = '#000';
        ctx.lineWidth = 1.5;
        p.outer.forEach((n: string, i: number) => {
          if (n !== 'Other DEMs') return;
          const el = outer[i];
          ctx.beginPath(); ctx.arc(cx, cy, R, el.startAngle, el.endAngle); ctx.stroke();
          [el.startAngle, el.endAngle].forEach((ang: number) => {
            ctx.beginPath();
            ctx.moveTo(cx + holeR * Math.cos(ang), cy + holeR * Math.sin(ang));
            ctx.lineTo(cx + R * Math.cos(ang), cy + R * Math.sin(ang));
            ctx.stroke();
          });
        });
        ctx.beginPath(); ctx.arc(cx, cy, holeR, 0, Math.PI * 2); ctx.stroke();

        const total = p.outerCounts.reduce((s: number, v: number) => s + v, 0);
        ctx.font = `27px ${FONT}`;
        ctx.textAlign = 'center';
        ctx.textBaseline = 'middle';
        p.outer.forEach((n: string, i: number) => {
          const el = outer[i];
          const m0 = (el.startAngle + el.endAngle) / 2;
          if (p.leader[i]) {
            ctx.strokeStyle = '#8C8C8C';
            ctx.lineWidth = 1.2;
            ctx.beginPath();
            ctx.moveTo(cx + 0.97 * R * Math.cos(m0), cy + 0.97 * R * Math.sin(m0));
            ctx.lineTo(cx + 1.06 * R * Math.cos(m0), cy + 1.06 * R * Math.sin(m0));
            ctx.stroke();
          }
          const mid = m0 + (p.shift[i] * Math.PI) / 180;
          const r = p.r[i] * R;
          const pct = ((p.outerCounts[i] / total) * 100).toFixed(1);
          const lines = [...n.split('\n'), `${p.outerCounts[i]} (${pct}%)`];
          ctx.fillStyle = '#000';
          const rot = rotFor(p.mode[i], m0) + (p.rot[i] * Math.PI) / 180;
          drawRotText(ctx, lines, cx + r * Math.cos(mid), cy + r * Math.sin(mid), rot, 28);
        });
        p.inner.forEach((n: string, i: number) => {
          if (!p.innerMode[i]) return;
          const el = inner[i];
          const mid = (el.startAngle + el.endAngle) / 2;
          const r = p.innerR[i] * R;
          ctx.fillStyle = '#000';
          drawRotText(ctx, [n], cx + r * Math.cos(mid), cy + r * Math.sin(mid), rotFor(p.innerMode[i], mid), 28);
        });
        ctx.restore();
      },
    }],
  };
}

const NKD_CENTER = [451, 1517];
const KD_CENTER = [1317, 1515];
const GF1 = { left: NKD_CENTER[0] - 450, top: NKD_CENTER[1] - 450, width: 900, height: 900, padding: { top: 0, right: 0, bottom: 0, left: 0 } };
const GF2 = { left: KD_CENTER[0] - 350, top: KD_CENTER[1] - 350, width: 700, height: 700, padding: { top: 0, right: 0, bottom: 0, left: 0 } };

const makeF1 = () => makePie({
  outer: NKD_CLASSES, outerCounts: NKD_COUNTS, inner: NKD_INNER, innerCounts: NKD_INNER_COUNTS, rotation: 135.2,
  r: NKD_LABEL_R, mode: NKD_LABEL_MODE, shift: NKD_LABEL_SHIFT, rot: NKD_LABEL_ROT, leader: NKD_LEADER,
  innerR: [0.27, 0], innerMode: ['radial', null],
});
const makeF2 = () => makePie({
  outer: KD_CLASSES, outerCounts: KD_COUNTS, inner: KD_INNER, innerCounts: KD_INNER_COUNTS, rotation: 271.7,
  r: KD_LABEL_R, mode: KD_LABEL_MODE, shift: KD_LABEL_SHIFT, rot: KD_LABEL_ROT, leader: KD_LEADER,
  innerR: [0.26, 0], innerMode: ['tangent', null],
});

// ================= Panel G config =================
const G_KIND_STYLE: any = {
  down: ['#6ED6D7', '#3D7F80'], lipidNs: ['#D9F3F3', '#A9BDBD'], up: ['#E94C4C', '#4A2A2A'], upNs: ['#F9DCDC', null],
  none: ['#EEF0F0', null], glyBg: ['#F6ECEC', null], tauBg: ['#DDF4F4', null], grayBg: ['#F0F0F0', null],
};
const G_TONE: any = { k: '#000', g: '#9A9A9A', r: '#BCAAAA' };
const GG = { left: 0, top: 1930, width: 1777, height: 570, padding: { top: 0, right: 0, bottom: 0, left: 0 } };

function boxImage(w: number, h: number, fill: string, stroke: string | null) {
  const c = document.createElement('canvas');
  c.width = w; c.height = h;
  const x = c.getContext('2d') as any;
  x.fillStyle = fill;
  x.fillRect(0, 0, w, h);
  if (stroke) { x.strokeStyle = stroke; x.lineWidth = 1.5; x.strokeRect(0.75, 0.75, w - 1.5, h - 1.5); }
  return c;
}

function makeG() {
  const styles = G_NODE_KIND.map((k, i) => {
    const big = k.endsWith('Bg');
    const w = big ? 46 : (G_NODE_Y[i] > 2400 ? 46 : 43);
    const h = big ? 22 : 19;
    return boxImage(w, h, G_KIND_STYLE[k][0], G_KIND_STYLE[k][1]);
  });
  return {
    type: 'scatter',
    data: {
      datasets: [{
        label: 'metabolites',
        data: G_NODE_X.map((x, i) => ({ x, y: G_NODE_Y[i], name: G_NODE_NAMES[i] })),
        pointStyle: styles, pointRadius: 10, borderWidth: 0,
      }],
    },
    options: {
      scales: {
        x: { type: 'linear', display: false, min: 0, max: 1777 },
        y: { type: 'linear', display: false, min: 1930, max: 2500, reverse: true },
      },
    },
    plugins: [{
      id: 'gDecor',
      beforeDatasetsDraw(chart: any) {
        const { ctx, scales } = chart;
        const X = (v: number) => scales.x.getPixelForValue(v);
        const Y = (v: number) => scales.y.getPixelForValue(v);
        ctx.save();
        ctx.strokeStyle = '#333';
        ctx.lineWidth = 1.6;
        ctx.setLineDash([6, 4]);
        G_BOXES.forEach(([x1, y1, x2, y2]) => ctx.strokeRect(X(x1), Y(y1), X(x2) - X(x1), Y(y2) - Y(y1)));
        ctx.setLineDash([]);
        ctx.strokeStyle = '#5A5A5A';
        ctx.fillStyle = '#333';
        ctx.lineWidth = 1.5;
        G_EDGES.forEach((pts) => {
          ctx.beginPath();
          pts.forEach(([x, y], i) => (i ? ctx.lineTo(X(x), Y(y)) : ctx.moveTo(X(x), Y(y))));
          ctx.stroke();
          const [xa, ya] = pts[pts.length - 2];
          const [xb, yb] = pts[pts.length - 1];
          const ang = Math.atan2(Y(yb) - Y(ya), X(xb) - X(xa));
          ctx.save();
          ctx.translate(X(xb), Y(yb));
          ctx.rotate(ang);
          ctx.beginPath(); ctx.moveTo(0, 0); ctx.lineTo(-12, -5); ctx.lineTo(-12, 5); ctx.closePath(); ctx.fill();
          ctx.restore();
        });
        ctx.beginPath();
        G_BIG_ARROW.forEach(([x, y], i) => (i ? ctx.lineTo(X(x), Y(y)) : ctx.moveTo(X(x), Y(y))));
        ctx.closePath();
        ctx.fillStyle = '#fff';
        ctx.fill();
        ctx.strokeStyle = '#555';
        ctx.stroke();
        ctx.restore();
      },
      afterDatasetsDraw(chart: any) {
        const { ctx, scales } = chart;
        const X = (v: number) => scales.x.getPixelForValue(v);
        const Y = (v: number) => scales.y.getPixelForValue(v);
        ctx.save();
        const [ex, ey, erx, ery] = G_CHOLESTEROL;
        ctx.strokeStyle = '#5CCFD3';
        ctx.lineWidth = 3;
        ctx.beginPath(); ctx.ellipse(X(ex), Y(ey), erx, ery, 0, 0, Math.PI * 2); ctx.stroke();
        ctx.font = `28px ${FONT}`;
        ctx.textAlign = 'center';
        ctx.textBaseline = 'middle';
        G_LABEL_TEXT.forEach((t, i) => {
          ctx.fillStyle = G_TONE[G_LABEL_TONE[i]];
          ctx.fillText(t, X(G_LABEL_X[i]), Y(G_LABEL_Y[i]));
        });
        ctx.restore();
      },
    }],
  };
}

// ================= Static text =================
const PANEL_LETTERS = ['A', 'B', 'C', 'D', 'E', 'F', 'G'];
const PANEL_LETTER_POS = [[8, 2], [608, 4], [1209, 4], [14, 620], [856, 620], [20, 1187], [22, 1934]];
const F_TITLES = ['nKD', 'KD'];
const F_TITLE_POS = [[450, 1861], [1323, 1859]];

export default function App() {
  return (
    <div style={{ position: 'absolute', left: 0, top: 0, width: 1777, height: 2500, background: '#fff', fontFamily: FONT, overflow: 'hidden' }}>
      {PANEL_LETTERS.map((l, i) => (
        <div key={l} style={{ position: 'absolute', left: PANEL_LETTER_POS[i][0], top: PANEL_LETTER_POS[i][1], fontSize: 38, lineHeight: '38px', color: '#000' }}>{l}</div>
      ))}
      {F_TITLES.map((t, i) => (
        <div key={t} style={{ position: 'absolute', left: F_TITLE_POS[i][0] - 60, top: F_TITLE_POS[i][1] - 15, width: 120, textAlign: 'center', fontSize: 26, lineHeight: '30px', color: '#000' }}>{t}</div>
      ))}
      <ChartCanvas g={GA} make={makeA} />
      <ChartCanvas g={GB} make={makeB} />
      <ChartCanvas g={GC} make={makeC} />
      <ChartCanvas g={GD} make={makeD} />
      <ChartCanvas g={GE} make={makeE} />
      <ChartCanvas g={GF1} make={makeF1} />
      <ChartCanvas g={GF2} make={makeF2} />
      <ChartCanvas g={GG} make={makeG} />
    </div>
  );
}
